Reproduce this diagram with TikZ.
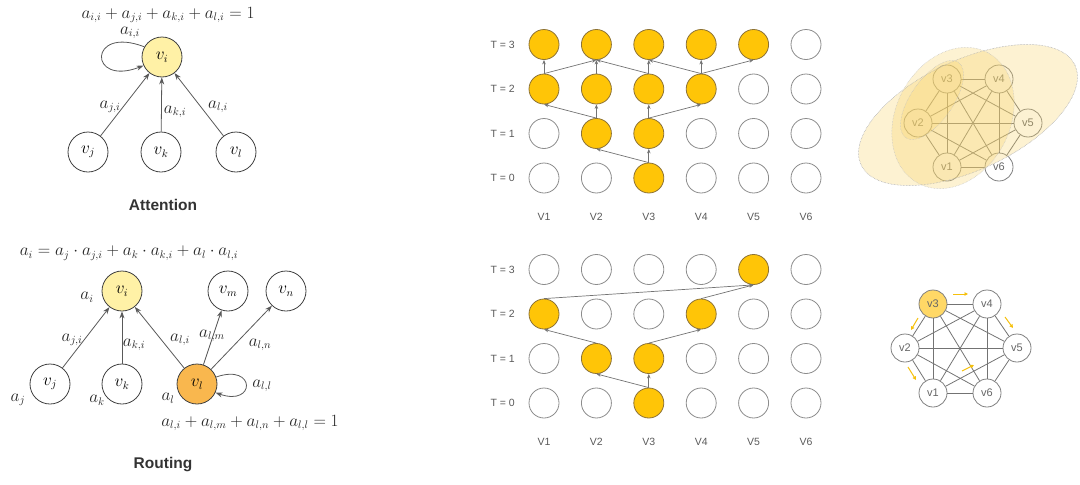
\documentclass[tikz,border=0pt]{standalone}
\usepackage{fontspec}
\newfontfamily\arialf{Liberation Sans}
\usetikzlibrary{arrows.meta}
\definecolor{lightyel}{HTML}{FFF1A6}
\definecolor{orangefill}{HTML}{F9B74E}
\definecolor{gold}{HTML}{FFC507}
\definecolor{goldborder}{HTML}{8C7236}
\definecolor{ellfill}{HTML}{F7D36A}
\definecolor{arrowyel}{HTML}{F5C00C}
\definecolor{v3fill}{HTML}{FFD866}
\newcommand\eqsize{\fontsize{16}{19}\selectfont}
\begin{document}
\begin{tikzpicture}[x=1pt,y=-1pt,
  mnode/.style={circle, draw=black!75, line width=0.8pt, minimum size=40pt, inner sep=0pt, font=\eqsize},
  lbl/.style={inner sep=0pt, font=\eqsize, text=black!85},
  arr/.style={-{Stealth[length=7pt,width=5pt]}, draw=black!65, line width=0.8pt},
  title/.style={font=\arialf\bfseries\fontsize{15.5}{18}\selectfont, text=black!80},
  gnode/.style={circle, draw=black!45, line width=0.8pt, minimum size=30pt, inner sep=0pt, fill=white},
  gfill/.style={fill=gold, draw=goldborder},
  garr/.style={-{Stealth[length=4.5pt,width=3.5pt]}, draw=black!55, line width=0.7pt},
  slbl/.style={font=\arialf\fontsize{10.5}{12}\selectfont, text=black!65, inner sep=0pt},
  knode/.style={circle, draw=black!50, line width=0.8pt, fill=white, minimum size=28pt, inner sep=0pt, font=\arialf\fontsize{11}{12}\selectfont, text=black!60},
  kedge/.style={draw=black!55, line width=0.8pt},
  ell/.style={fill=ellfill, fill opacity=0.3, draw=black!25, densely dotted, line width=0.5pt},
  yarr/.style={-{Triangle[length=3.5pt,width=3.5pt]}, draw=arrowyel, line width=1pt}
]
\useasboundingbox (0,0) rectangle (1080,485);

% ---------- Attention ----------
\node[lbl] (eqA) at (168,15) {$a_{i,i}+a_{j,i}+a_{k,i}+a_{l,i}=1$};
\node[mnode, fill=lightyel] (ai) at (162,57) {$v_i$};
\node[mnode] (aj) at (88,152) {$v_j$};
\node[mnode] (ak) at (161,152) {$v_k$};
\node[mnode] (al) at (236,152) {$v_l$};
\draw[arr] (aj) -- (ai);
\draw[arr] (ak) -- (ai);
\draw[arr] (al) -- (ai);
\draw[arr] (ai.150) .. controls (88,25) and (88,87) .. (ai.205);
\node[lbl] (lii) at (130,33) {$a_{i,i}$};
\node[lbl] (lji) at (110,107) {$a_{j,i}$};
\node[lbl] (lki) at (175,112) {$a_{k,i}$};
\node[lbl] (lli) at (218,107) {$a_{l,i}$};
\node[title] (tatt) at (163,205) {Attention};

% ---------- Routing ----------
\node[lbl] (eqR) at (129,253) {$a_i=a_j\cdot a_{j,i}+a_k\cdot a_{k,i}+a_l\cdot a_{l,i}$};
\node[mnode, fill=lightyel] (ri) at (122,291) {$v_i$};
\node[mnode] (rm) at (228,291) {$v_m$};
\node[mnode] (rn) at (286,291) {$v_n$};
\node[mnode] (rj) at (50,384) {$v_j$};
\node[mnode] (rk) at (122,384) {$v_k$};
\node[mnode, fill=orangefill] (rl) at (197,384) {$v_l$};
\draw[arr] (rj) -- (ri);
\draw[arr] (rk) -- (ri);
\draw[arr] (rl) -- (ri);
\draw[arr] (rl) -- (rm);
\draw[arr] (rl) -- (rn);
\draw[arr] (rl.20) .. controls (256,363) and (256,407) .. (rl.-25);
\node[lbl] (lai) at (87,297) {$a_i$};
\node[lbl] (laj) at (18,400) {$a_j$};
\node[lbl] (lak) at (97,400) {$a_k$};
\node[lbl] (lal) at (168,398) {$a_l$};
\node[lbl] (rji) at (72,340) {$a_{j,i}$};
\node[lbl] (rki) at (134,345) {$a_{k,i}$};
\node[lbl] (rli) at (180,340) {$a_{l,i}$};
\node[lbl] (rlm) at (212,336) {$a_{l,m}$};
\node[lbl] (rln) at (260,345) {$a_{l,n}$};
\node[lbl] (rll) at (262,386) {$a_{l,l}$};
\node[lbl] (eqR2) at (250,423) {$a_{l,i}+a_{l,m}+a_{l,n}+a_{l,l}=1$};
\node[title] (trout) at (163,465) {Routing};

% ---------- Top grid ----------
\foreach \r/\c in {3/6,2/5,2/6,1/1,1/4,1/5,1/6,0/1,0/2,0/4,0/5,0/6}
  \node[gnode] (t\r\c) at ({544+(\c-1)*52.4},{178-\r*44.5}) {};
\foreach \r/\c in {3/1,3/2,3/3,3/4,3/5,2/1,2/2,2/3,2/4,1/2,1/3,0/3}
  \node[gnode,gfill] (t\r\c) at ({544+(\c-1)*52.4},{178-\r*44.5}) {};
\foreach \a/\b in {03/12,03/13,12/21,12/22,13/23,13/24,21/31,21/32,22/32,23/32,23/33,24/33,24/34,24/35}
  \draw[garr] (t\a.north) -- (t\b.south);
\foreach \r in {0,...,3}
  \node[slbl, anchor=east] (tT\r) at (515,{178-\r*44.5}) {T = \r};
\foreach \c in {1,...,6}
  \node[slbl] (tV\c) at ({544+(\c-1)*52.4},217) {V\c};

% ---------- Bottom grid ----------
\foreach \r/\c in {3/1,3/2,3/3,3/4,3/6,2/2,2/3,2/5,2/6,1/1,1/4,1/5,1/6,0/1,0/2,0/4,0/5,0/6}
  \node[gnode] (b\r\c) at ({544+(\c-1)*52.4},{403-\r*44.5}) {};
\foreach \r/\c in {3/5,2/1,2/4,1/2,1/3,0/3}
  \node[gnode,gfill] (b\r\c) at ({544+(\c-1)*52.4},{403-\r*44.5}) {};
\foreach \a/\b in {03/12,03/13,12/21,13/24,21/35,24/35}
  \draw[garr] (b\a.north) -- (b\b.south);
\foreach \r in {0,...,3}
  \node[slbl, anchor=east] (bT\r) at (515,{403-\r*44.5}) {T = \r};
\foreach \c in {1,...,6}
  \node[slbl] (bV\c) at ({544+(\c-1)*52.4},442) {V\c};

% ---------- Top right graph ----------
\node[knode] (k3) at (947,79) {v3};
\node[knode] (k4) at (999,79) {v4};
\node[knode] (k2) at (918,123) {v2};
\node[knode] (k5) at (1028,123) {v5};
\node[knode] (k1) at (947,167) {v1};
\node[knode] (k6) at (999,167) {v6};
\foreach \a/\b in {1/2,1/3,1/4,1/5,1/6,2/3,2/4,2/5,2/6,3/4,3/5,3/6,4/5,4/6,5/6}
  \draw[kedge] (k\a) -- (k\b);
\fill[ell, rotate around={25:(968,115)}] (968,115) ellipse [x radius=118pt, y radius=55pt];
\fill[ell, rotate around={62:(953,118)}] (953,118) ellipse [x radius=74pt, y radius=57pt];
\fill[ell, rotate around={55:(932,100)}] (932,100) ellipse [x radius=46pt, y radius=21pt];
\draw[ell, fill=none, rotate around={25:(968,115)}] (968,115) ellipse [x radius=118pt, y radius=55pt];

% ---------- Bottom right graph ----------
\node[knode, fill=v3fill] (m3) at (933,304) {v3};
\node[knode] (m4) at (987,304) {v4};
\node[knode] (m2) at (905,348) {v2};
\node[knode] (m5) at (1017,348) {v5};
\node[knode] (m1) at (933,393) {v1};
\node[knode] (m6) at (987,393) {v6};
\foreach \a/\b in {1/2,1/3,1/4,1/5,1/6,2/3,2/4,2/5,2/6,3/4,3/5,3/6,4/5,4/6,5/6}
  \draw[kedge] (m\a) -- (m\b);
\coordinate (y1s) at (953,294); \coordinate (y1e) at (968,294);
\coordinate (y2s) at (918,318); \coordinate (y2e) at (911,330);
\coordinate (y3s) at (1005,317); \coordinate (y3e) at (1013,328);
\coordinate (y4s) at (908,367); \coordinate (y4e) at (916,380);
\coordinate (y5s) at (962,371); \coordinate (y5e) at (974,365);
\foreach \i in {1,...,5} \draw[yarr] (y\i s) -- (y\i e);
\end{tikzpicture}
\end{document}
